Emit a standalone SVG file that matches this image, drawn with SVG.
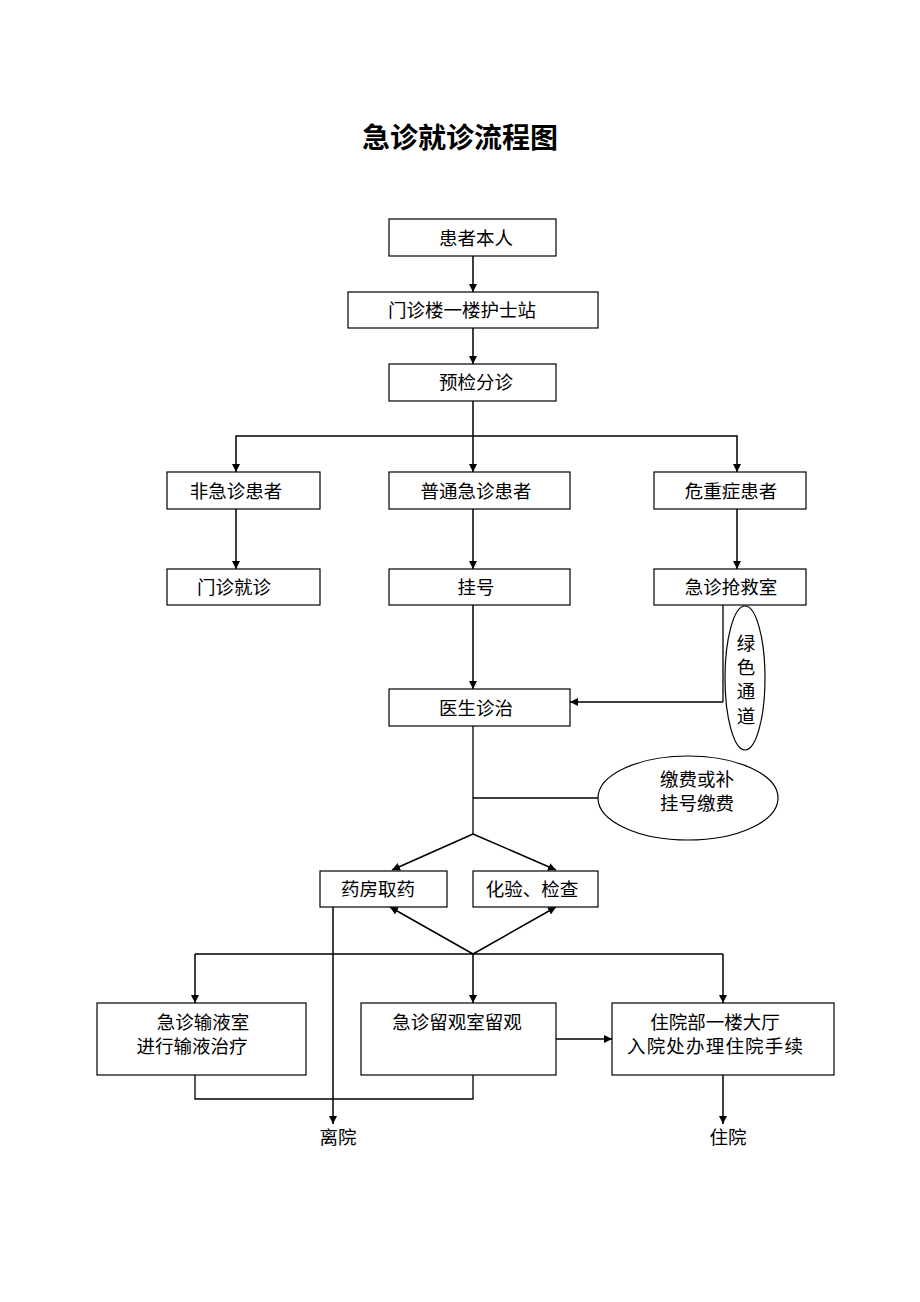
<svg xmlns="http://www.w3.org/2000/svg" width="920" height="1302" viewBox="0 0 920 1302">
<style>
.box{fill:#fff;stroke:#000;stroke-width:1.2}
.t{font-family:"Noto Sans CJK SC",sans-serif;font-size:18.5px;fill:#000;text-anchor:middle;dominant-baseline:central}
.ln{fill:none;stroke:#000;stroke-width:1.3}
.ar{fill:none;stroke:#000;stroke-width:1.5;marker-end:url(#ah)}
</style>
<defs>
<marker id="ah" viewBox="0 0 10 10" refX="10" refY="5" markerWidth="8" markerHeight="8" markerUnits="userSpaceOnUse" orient="auto">
<path d="M0,0 L10,5 L0,10 z" fill="#000"/>
</marker>
</defs>
<rect width="920" height="1302" fill="#fff"/>
<text x="460" y="136" style="font-family:'Noto Sans CJK SC',sans-serif;font-size:28px;font-weight:bold;text-anchor:middle;dominant-baseline:central">急诊就诊流程图</text>

<g id="connectors">
<line class="ar" x1="473" y1="256" x2="473" y2="292"/>
<line class="ar" x1="473" y1="328" x2="473" y2="364"/>
<line class="ar" x1="473" y1="401" x2="473" y2="472"/>
<polyline class="ar" points="473,436 236,436 236,472"/>
<polyline class="ar" points="473,436 737,436 737,472"/>
<line class="ar" x1="236" y1="509" x2="236" y2="569"/>
<line class="ar" x1="473" y1="509" x2="473" y2="569"/>
<line class="ar" x1="737" y1="509" x2="737" y2="569"/>
<line class="ar" x1="473" y1="605" x2="473" y2="689"/>
<line class="ln" x1="723" y1="605" x2="723" y2="702"/>
<line class="ar" x1="723" y1="702" x2="570" y2="702"/>
<line class="ln" x1="473" y1="726" x2="473" y2="834"/>
<line class="ln" x1="473" y1="798" x2="598" y2="798"/>
<line class="ar" x1="473" y1="834" x2="392" y2="870"/>
<line class="ar" x1="473" y1="834" x2="556" y2="870"/>
<line class="ar" x1="473" y1="954" x2="390" y2="907"/>
<line class="ar" x1="473" y1="954" x2="556" y2="907"/>
<line class="ln" x1="195" y1="954" x2="723" y2="954"/>
<line class="ar" x1="195" y1="954" x2="195" y2="1003"/>
<line class="ar" x1="473" y1="954" x2="473" y2="1003"/>
<line class="ar" x1="723" y1="954" x2="723" y2="1003"/>
<line class="ar" x1="556" y1="1039" x2="612" y2="1039"/>
<polyline class="ln" points="195,1075 195,1099 473,1099 473,1075"/>
<line class="ar" x1="333" y1="907" x2="333" y2="1124"/>
<line class="ar" x1="723" y1="1075" x2="723" y2="1124"/>
</g>

<g id="n1"><rect class="box" x="389" y="219" width="167" height="37"/><text class="t" x="476" y="237">患者本人</text></g>
<g id="n2"><rect class="box" x="348" y="292" width="250" height="36"/><text class="t" x="462" y="309">门诊楼一楼护士站</text></g>
<g id="n3"><rect class="box" x="389" y="364" width="167" height="37"/><text class="t" x="476" y="381">预检分诊</text></g>
<g id="n4"><rect class="box" x="167" y="472" width="153" height="37"/><text class="t" x="236" y="490">非急诊患者</text></g>
<g id="n5"><rect class="box" x="389" y="472" width="181" height="37"/><text class="t" x="476" y="490">普通急诊患者</text></g>
<g id="n6"><rect class="box" x="654" y="472" width="152" height="37"/><text class="t" x="731" y="490">危重症患者</text></g>
<g id="n7"><rect class="box" x="167" y="569" width="153" height="36"/><text class="t" x="234" y="586">门诊就诊</text></g>
<g id="n8"><rect class="box" x="389" y="569" width="181" height="36"/><text class="t" x="476" y="586">挂号</text></g>
<g id="n9"><rect class="box" x="654" y="569" width="152" height="36"/><text class="t" x="731" y="586">急诊抢救室</text></g>
<g id="n10"><ellipse class="box" cx="745" cy="678" rx="20" ry="72"/>
<text class="t" x="746" y="642">绿</text><text class="t" x="746" y="666">色</text><text class="t" x="746" y="690">通</text><text class="t" x="746" y="715">道</text></g>
<g id="n11"><rect class="box" x="389" y="689" width="181" height="37"/><text class="t" x="476" y="707">医生诊治</text></g>
<g id="n12"><ellipse class="box" cx="688" cy="798" rx="90" ry="42"/>
<text class="t" x="697" y="778">缴费或补</text><text class="t" x="697" y="802">挂号缴费</text></g>
<g id="n13"><rect class="box" x="320" y="871" width="127" height="36"/><text class="t" x="378" y="888">药房取药</text></g>
<g id="n14"><rect class="box" x="473" y="871" width="125" height="36"/><text class="t" x="532" y="888">化验、检查</text></g>
<g id="n15"><rect class="box" x="97" y="1003" width="209" height="72"/>
<text class="t" x="203" y="1021">急诊输液室</text><text class="t" x="192" y="1045">进行输液治疗</text></g>
<g id="n16"><rect class="box" x="361" y="1003" width="195" height="72"/><text class="t" x="457" y="1021">急诊留观室留观</text></g>
<g id="n17"><rect class="box" x="612" y="1003" width="222" height="72"/>
<text class="t" x="715" y="1021">住院部一楼大厅</text><text class="t" x="715" y="1045" textLength="176" lengthAdjust="spacing">入院处办理住院手续</text></g>
<g id="n18"><text class="t" x="338" y="1136">离院</text></g>
<g id="n19"><text class="t" x="728" y="1136">住院</text></g>
</svg>
